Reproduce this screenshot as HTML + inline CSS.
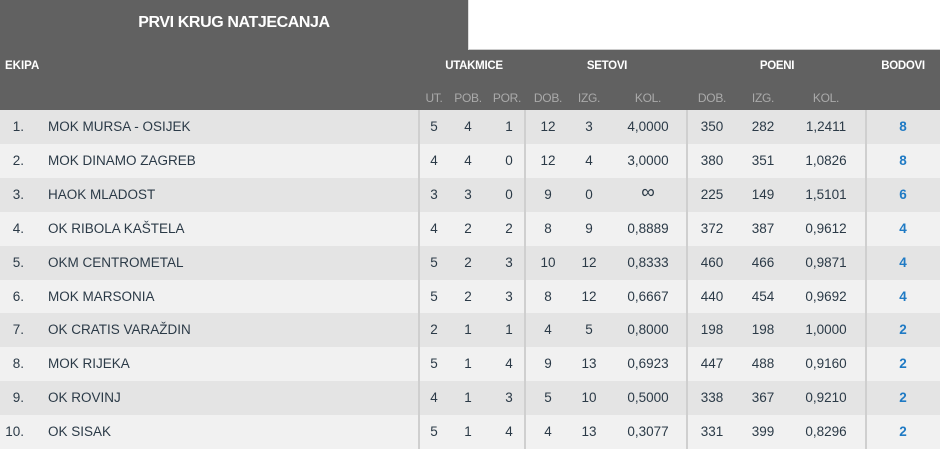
<!DOCTYPE html>
<html><head><meta charset="utf-8"><style>
body{margin:0;width:940px;height:449px;overflow:hidden;background:#616161;font-family:"Liberation Sans",Arial,sans-serif;position:relative}
.a{position:absolute}
.title{left:0;top:0;width:468px;height:50px;color:#fff;font-weight:bold;font-size:16px;line-height:46px;text-align:center;letter-spacing:-0.4px}
.white{left:468px;top:0;width:472px;height:50px;background:#fff;border-left:1px solid #ddd;border-bottom:1px solid #ccc;box-sizing:border-box}
.h{color:#fff;font-weight:bold;font-size:11.5px;top:60px;transform:translateX(-50%);letter-spacing:-0.3px}
.s{color:#aaa;font-size:12px;top:91px;transform:translateX(-50%);letter-spacing:-0.3px}
.row{left:0;width:940px;height:34px;font-size:13.5px;color:#2b3a47}
.row span{position:absolute;top:9px}
.c{transform:translateX(-50%)}
.v{top:110px;width:2px;height:339px;background:#cfcfcf}
.b{color:#1f7ac4;font-weight:bold}
.inf{font-size:19px;top:4px !important}
</style></head><body>
<div class="a title">PRVI KRUG NATJECANJA</div>
<div class="a white"></div>
<div class="a" style="left:5px;top:60px;color:#fff;font-weight:bold;font-size:11.5px">EKIPA</div>
<div class="a h" style="left:474px">UTAKMICE</div>
<div class="a h" style="left:607px">SETOVI</div>
<div class="a h" style="left:777px">POENI</div>
<div class="a h" style="left:903px">BODOVI</div>
<div class="a s" style="left:434px">UT.</div>
<div class="a s" style="left:468px">POB.</div>
<div class="a s" style="left:507px">POR.</div>
<div class="a s" style="left:548px">DOB.</div>
<div class="a s" style="left:589px">IZG.</div>
<div class="a s" style="left:648px">KOL.</div>
<div class="a s" style="left:712px">DOB.</div>
<div class="a s" style="left:763px">IZG.</div>
<div class="a s" style="left:826px">KOL.</div>
<div class="a" style="left:0;top:110px;width:940px;height:339px">
<div class="a row" style="top:0;background:#e4e4e4"><span style="right:916px">1.</span><span style="left:48px">MOK MURSA - OSIJEK</span><span class="c" style="left:434px">5</span><span class="c" style="left:468px">4</span><span class="c" style="left:509px">1</span><span class="c" style="left:548px">12</span><span class="c" style="left:589px">3</span><span class="c" style="left:648px">4,0000</span><span class="c" style="left:712px">350</span><span class="c" style="left:763px">282</span><span class="c" style="left:826px">1,2411</span><span class="c b" style="left:903px">8</span></div>
<div class="a row" style="top:33.9px;background:#f1f1f1"><span style="right:916px">2.</span><span style="left:48px">MOK DINAMO ZAGREB</span><span class="c" style="left:434px">4</span><span class="c" style="left:468px">4</span><span class="c" style="left:509px">0</span><span class="c" style="left:548px">12</span><span class="c" style="left:589px">4</span><span class="c" style="left:648px">3,0000</span><span class="c" style="left:712px">380</span><span class="c" style="left:763px">351</span><span class="c" style="left:826px">1,0826</span><span class="c b" style="left:903px">8</span></div>
<div class="a row" style="top:67.8px;background:#e4e4e4"><span style="right:916px">3.</span><span style="left:48px">HAOK MLADOST</span><span class="c" style="left:434px">3</span><span class="c" style="left:468px">3</span><span class="c" style="left:509px">0</span><span class="c" style="left:548px">9</span><span class="c" style="left:589px">0</span><span class="c inf" style="left:648px">∞</span><span class="c" style="left:712px">225</span><span class="c" style="left:763px">149</span><span class="c" style="left:826px">1,5101</span><span class="c b" style="left:903px">6</span></div>
<div class="a row" style="top:101.7px;background:#f1f1f1"><span style="right:916px">4.</span><span style="left:48px">OK RIBOLA KAŠTELA</span><span class="c" style="left:434px">4</span><span class="c" style="left:468px">2</span><span class="c" style="left:509px">2</span><span class="c" style="left:548px">8</span><span class="c" style="left:589px">9</span><span class="c" style="left:648px">0,8889</span><span class="c" style="left:712px">372</span><span class="c" style="left:763px">387</span><span class="c" style="left:826px">0,9612</span><span class="c b" style="left:903px">4</span></div>
<div class="a row" style="top:135.6px;background:#e4e4e4"><span style="right:916px">5.</span><span style="left:48px">OKM CENTROMETAL</span><span class="c" style="left:434px">5</span><span class="c" style="left:468px">2</span><span class="c" style="left:509px">3</span><span class="c" style="left:548px">10</span><span class="c" style="left:589px">12</span><span class="c" style="left:648px">0,8333</span><span class="c" style="left:712px">460</span><span class="c" style="left:763px">466</span><span class="c" style="left:826px">0,9871</span><span class="c b" style="left:903px">4</span></div>
<div class="a row" style="top:169.5px;background:#f1f1f1"><span style="right:916px">6.</span><span style="left:48px">MOK MARSONIA</span><span class="c" style="left:434px">5</span><span class="c" style="left:468px">2</span><span class="c" style="left:509px">3</span><span class="c" style="left:548px">8</span><span class="c" style="left:589px">12</span><span class="c" style="left:648px">0,6667</span><span class="c" style="left:712px">440</span><span class="c" style="left:763px">454</span><span class="c" style="left:826px">0,9692</span><span class="c b" style="left:903px">4</span></div>
<div class="a row" style="top:203.4px;background:#e4e4e4"><span style="right:916px">7.</span><span style="left:48px">OK CRATIS VARAŽDIN</span><span class="c" style="left:434px">2</span><span class="c" style="left:468px">1</span><span class="c" style="left:509px">1</span><span class="c" style="left:548px">4</span><span class="c" style="left:589px">5</span><span class="c" style="left:648px">0,8000</span><span class="c" style="left:712px">198</span><span class="c" style="left:763px">198</span><span class="c" style="left:826px">1,0000</span><span class="c b" style="left:903px">2</span></div>
<div class="a row" style="top:237.3px;background:#f1f1f1"><span style="right:916px">8.</span><span style="left:48px">MOK RIJEKA</span><span class="c" style="left:434px">5</span><span class="c" style="left:468px">1</span><span class="c" style="left:509px">4</span><span class="c" style="left:548px">9</span><span class="c" style="left:589px">13</span><span class="c" style="left:648px">0,6923</span><span class="c" style="left:712px">447</span><span class="c" style="left:763px">488</span><span class="c" style="left:826px">0,9160</span><span class="c b" style="left:903px">2</span></div>
<div class="a row" style="top:271.2px;background:#e4e4e4"><span style="right:916px">9.</span><span style="left:48px">OK ROVINJ</span><span class="c" style="left:434px">4</span><span class="c" style="left:468px">1</span><span class="c" style="left:509px">3</span><span class="c" style="left:548px">5</span><span class="c" style="left:589px">10</span><span class="c" style="left:648px">0,5000</span><span class="c" style="left:712px">338</span><span class="c" style="left:763px">367</span><span class="c" style="left:826px">0,9210</span><span class="c b" style="left:903px">2</span></div>
<div class="a row" style="top:305.1px;background:#f1f1f1"><span style="right:916px">10.</span><span style="left:48px">OK SISAK</span><span class="c" style="left:434px">5</span><span class="c" style="left:468px">1</span><span class="c" style="left:509px">4</span><span class="c" style="left:548px">4</span><span class="c" style="left:589px">13</span><span class="c" style="left:648px">0,3077</span><span class="c" style="left:712px">331</span><span class="c" style="left:763px">399</span><span class="c" style="left:826px">0,8296</span><span class="c b" style="left:903px">2</span></div>
</div>
<div class="a v" style="left:418px"></div>
<div class="a v" style="left:524px"></div>
<div class="a v" style="left:686px"></div>
<div class="a v" style="left:865px"></div>
</body></html>
